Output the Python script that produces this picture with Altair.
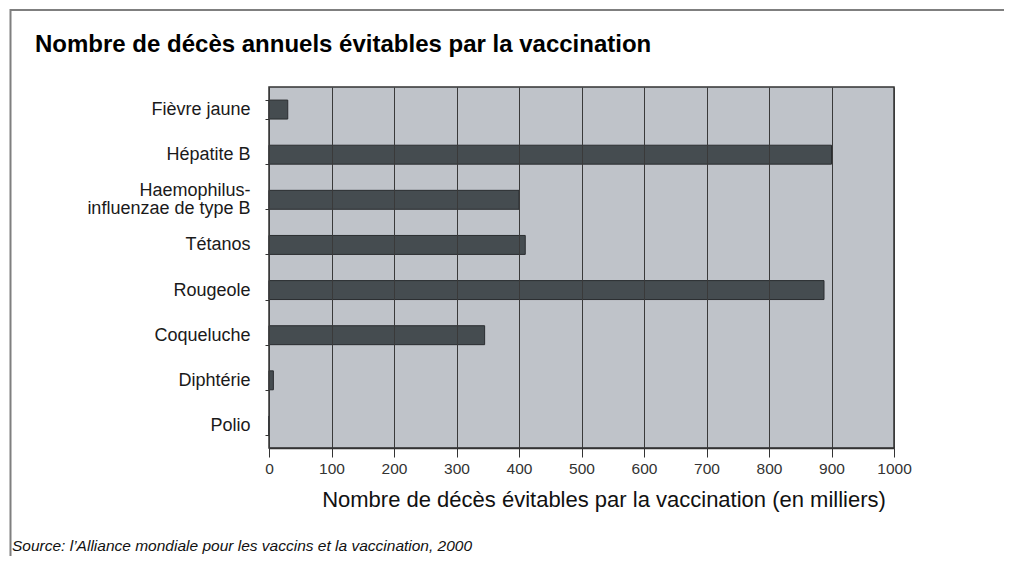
import altair as alt
import pandas as pd

categories = ["Fièvre jaune", "Hépatite B", "Haemophilus-influenzae de type B", "Tétanos",
              "Rougeole", "Coqueluche", "Diphtérie", "Polio"]
values = [30, 900, 400, 410, 888, 345, 7, 0]
x_ticks = [0, 100, 200, 300, 400, 500, 600, 700, 800, 900, 1000]

title_text = "Nombre de décès annuels évitables par la vaccination"
x_title = "Nombre de décès évitables par la vaccination (en milliers)"
source_text = "Source: l\u2019Alliance mondiale pour les vaccins et la vaccination, 2000"

FONT = "Liberation Sans, Arial, Helvetica, sans-serif"
LONG = "Haemophilus-influenzae de type B"

df = pd.DataFrame({"cat": categories, "val": values})
one = pd.DataFrame({"a": [0]})

bars = alt.Chart(df).mark_bar(
    fill="#454c50", stroke="#2a2d30", strokeWidth=1
).encode(
    x=alt.X("val:Q",
            scale=alt.Scale(domain=[0, 1000], nice=False),
            axis=alt.Axis(values=x_ticks, format="d", title=None, grid=True,
                          gridColor="#3a3a3a", gridWidth=1, tickSize=9, tickColor="#333333",
                          labelPadding=4, labelFontSize=15.5, labelColor="#333333",
                          labelFont=FONT, labelFlush=False, domain=True,
                          domainColor="#333333", domainWidth=1.5, zindex=1)),
    y=alt.Y("cat:N", sort=categories,
            scale=alt.Scale(paddingInner=0.58, paddingOuter=0.29),
            axis=alt.Axis(title=None, tickBand="extent", tickSize=4, tickColor="#333333",
                          labelPadding=15, labelFontSize=18, labelColor="#1a1a1a",
                          labelFont=FONT, labelLineHeight=18, domain=False, grid=False,
                          labelOffset={"condition": {"test": f"datum.value == '{LONG}'",
                                                     "value": -9}, "value": 0},
                          labelExpr=f"datum.label == '{LONG}' ? ['Haemophilus-', 'influenzae de type B'] : datum.label")),
)

frame_top = alt.Chart(one).mark_rule(color="#7f7f7f", strokeWidth=2).encode(
    x=alt.value(-259), x2=alt.value(736), y=alt.value(-77))
frame_left = alt.Chart(one).mark_rule(color="#7f7f7f", strokeWidth=2).encode(
    x=alt.value(-258.5), y=alt.value(-78), y2=alt.value(480))

title = alt.Chart(one).mark_text(
    text=title_text, align="left", baseline="alphabetic", font=FONT,
    fontSize=24, fontWeight="bold", color="#000000"
).encode(x=alt.value(-234), y=alt.value(-35))

xtitle = alt.Chart(one).mark_text(
    text=x_title, align="center", baseline="alphabetic", font=FONT,
    fontSize=22, color="#111111"
).encode(x=alt.value(335), y=alt.value(420))

source = alt.Chart(one).mark_text(
    text=source_text, align="left", baseline="alphabetic", font=FONT,
    fontSize=15.5, fontStyle="italic", color="#111111"
).encode(x=alt.value(-257), y=alt.value(464))

chart = alt.layer(bars, frame_top, frame_left, title, xtitle, source).properties(
    width=625, height=361,
    autosize=alt.AutoSizeParams(type="none"),
    padding={"left": 261, "top": 79, "right": 110, "bottom": 108},
    background="white",
).configure_view(
    fill="#bfc3c9", stroke="#333333", strokeWidth=1.5
)

chart.save("out.html", embed_options={"renderer": "svg", "actions": False})
